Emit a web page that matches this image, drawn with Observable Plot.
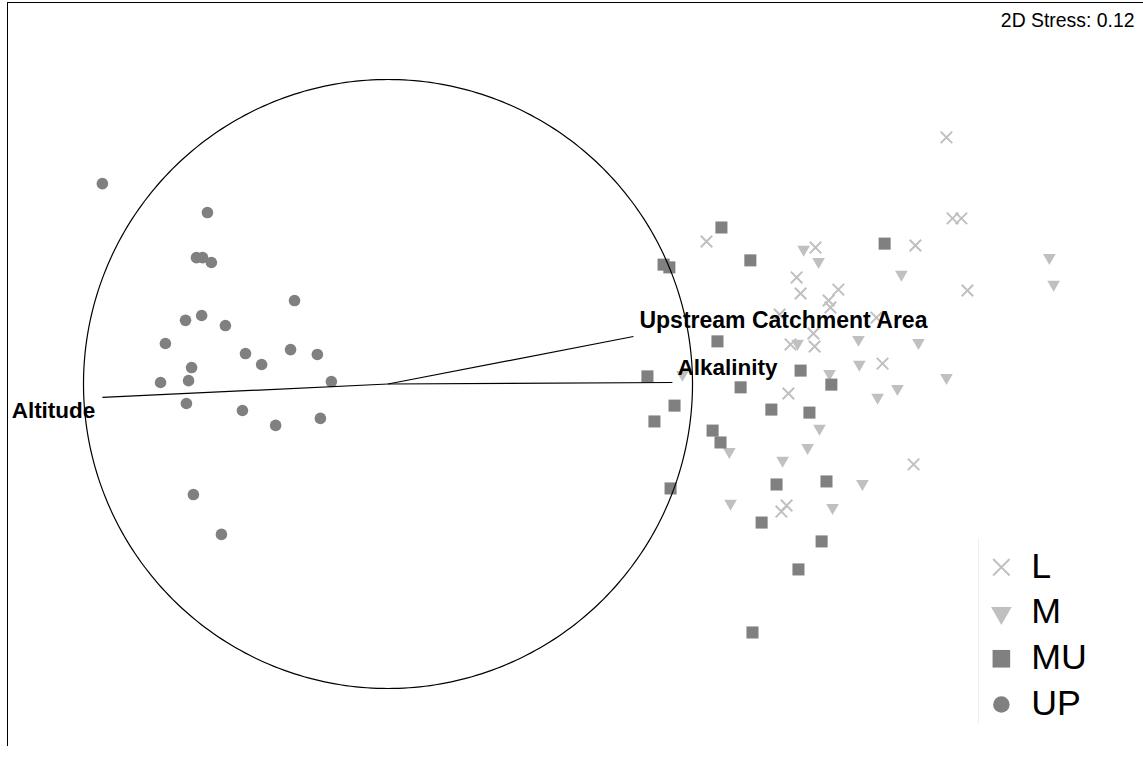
<!DOCTYPE html>
<html>
<head>
<meta charset="utf-8">
<script src="https://cdn.jsdelivr.net/npm/d3@7"></script>
<script src="https://cdn.jsdelivr.net/npm/@observablehq/plot@0.6"></script>
<style>
  html, body { margin: 0; padding: 0; background: #fff; }
  #wrap { position: relative; width: 1143px; height: 763px; overflow: hidden; font-family: "Liberation Sans", Arial, sans-serif; }
  #chart { position: absolute; left: 0; top: 0; }
  #frame { position: absolute; left: 7px; top: 2px; width: 1136px; height: 743px; border-left: 1px solid #000; border-top: 1px solid #000; pointer-events: none; }
  #legend { position: absolute; left: 978px; top: 538px; border-left: 1px solid #efefef; }
</style>
</head>
<body>
<div id="wrap"><div id="chart"></div><div id="frame"></div><div id="legend"></div></div>
<script>
// ---- Data (NMDS coordinates, correlation circle radius = 1) ----
const groups = ["L", "M", "MU", "UP"];
const stress = "0.12";

const lX = [1.046, 1.404, 1.342, 1.355, 1.479, 1.447, 1.453, 1.286, 1.604, 1.397, 1.322, 1.401, 1.834, 1.854, 1.883, 1.732, 1.903, 1.624, 1.315, 1.726, 1.292, 1.309];
const lY = [0.468, 0.448, 0.350, 0.297, 0.310, 0.274, 0.251, 0.228, 0.218, 0.166, 0.130, 0.123, 0.810, 0.544, 0.544, 0.455, 0.307, 0.067, -0.031, -0.264, -0.419, -0.399];

const mX = [1.365, 1.414, 1.686, 2.172, 2.186, 1.345, 1.545, 1.742, 1.548, 1.450, 1.673, 1.608, 1.834, 0.967, 1.121, 1.296, 1.378, 1.417, 1.558, 1.125, 1.460];
const mY = [0.442, 0.402, 0.360, 0.415, 0.327, 0.133, 0.146, 0.136, 0.064, 0.034, -0.015, -0.044, 0.021, 0.031, -0.222, -0.251, -0.209, -0.146, -0.327, -0.392, -0.406];

const muX = [1.095, 0.905, 0.924, 1.190, 1.631, 1.082, 0.852, 1.158, 1.355, 1.456, 0.941, 0.875, 1.259, 1.384, 1.066, 1.092, 0.928, 1.276, 1.440, 1.227, 1.424, 1.348, 1.197];
const muY = [0.514, 0.392, 0.383, 0.406, 0.461, 0.140, 0.025, -0.011, 0.044, -0.002, -0.071, -0.123, -0.084, -0.094, -0.153, -0.192, -0.343, -0.330, -0.320, -0.455, -0.517, -0.609, -0.816];

const upX = [-0.938, -0.593, -0.629, -0.609, -0.580, -0.307, -0.665, -0.612, -0.534, -0.731, -0.468, -0.415, -0.320, -0.232, -0.645, -0.655, -0.747, -0.186, -0.662, -0.478, -0.369, -0.222, -0.639, -0.547];
const upY = [0.658, 0.563, 0.415, 0.415, 0.399, 0.274, 0.209, 0.225, 0.192, 0.133, 0.100, 0.064, 0.113, 0.097, 0.054, 0.011, 0.005, 0.008, -0.064, -0.087, -0.136, -0.113, -0.363, -0.494];

const vectorNames = ["Altitude", "Upstream Catchment Area", "Alkalinity"];
const vectorX = [-0.938, 0.806, 0.934];
const vectorY = [-0.044, 0.156, 0.005];

// ---- Build tables ----
const toRows = (g, xs, ys) => xs.map((x, i) => ({group: g, x, y: ys[i]}));
const rowsL = toRows("L", lX, lY);
const rowsM = toRows("M", mX, mY);
const rowsMU = toRows("MU", muX, muY);
const rowsUP = toRows("UP", upX, upY);
const vectors = vectorNames.map((name, i) => ({name, x: vectorX[i], y: vectorY[i]}));
const unitCircle = d3.range(0, 361).map(a => ({x: Math.cos(a * Math.PI / 180), y: Math.sin(a * Math.PI / 180)}));

const LIGHT = "#c0c0c0", DARK = "#808080";
const triangleDown = {
  draw(ctx, size) {
    const y = Math.sqrt(size / (3 * Math.sqrt(3)));
    const x = Math.sqrt(3) * y;
    ctx.moveTo(0, 2 * y);
    ctx.lineTo(-x, -y);
    ctx.lineTo(x, -y);
    ctx.closePath();
  }
};
const FONT = "Liberation Sans, Arial, sans-serif";

// equal aspect: 304.5 px per unit, origin at (387.5, 383.5)
const W = 1143, H = 763, K = 304.5, OX = 387.5, OY = 383.5;

const chart = Plot.plot({
  width: W, height: H,
  marginTop: 0, marginRight: 0, marginBottom: 0, marginLeft: 0,
  style: {fontFamily: FONT, background: "transparent"},
  x: {type: "linear", domain: [-OX / K, (W - OX) / K], axis: null},
  y: {type: "linear", domain: [(OY - H) / K, OY / K], axis: null},
  marks: [
    Plot.dot(rowsL, {x: "x", y: "y", symbol: "times", r: 5.3, stroke: LIGHT, strokeWidth: 2, fill: "none"}),
    Plot.dot(rowsM, {x: "x", y: "y", symbol: triangleDown, r: 4.7, fill: LIGHT, stroke: "none"}),
    Plot.dot(rowsMU, {x: "x", y: "y", symbol: "square", r: 6.8, fill: DARK, stroke: "none"}),
    Plot.dot(rowsUP, {x: "x", y: "y", symbol: "circle", r: 5.8, fill: DARK, stroke: "none"}),
    Plot.line(unitCircle, {x: "x", y: "y", stroke: "#000", strokeWidth: 1.2}),
    Plot.link(vectors, {x1: () => 0, y1: () => 0, x2: "x", y2: "y", stroke: "#000", strokeWidth: 1.2}),
    Plot.text(vectors.filter(d => d.name === "Altitude"), {x: "x", y: "y", text: "name", textAnchor: "end", dx: -7, dy: 13, fontSize: 22.5, fontWeight: "bold", fill: "#000"}),
    Plot.text(vectors.filter(d => d.name === "Upstream Catchment Area"), {x: "x", y: "y", text: "name", textAnchor: "start", dx: 6, dy: -16, fontSize: 23, fontWeight: "bold", fill: "#000"}),
    Plot.text(vectors.filter(d => d.name === "Alkalinity"), {x: "x", y: "y", text: "name", textAnchor: "start", dx: 5, dy: -15, fontSize: 22.5, fontWeight: "bold", fill: "#000"}),
    Plot.text([stress], {frameAnchor: "top-right", text: d => `2D Stress: ${d}`, textAnchor: "end", lineAnchor: "top", dx: -9, dy: 13, fontSize: 19.4, fill: "#000"})
  ]
});
document.getElementById("chart").appendChild(chart);

// ---- Legend ----
const legendSymbols = {L: "times", M: triangleDown, MU: "square", UP: "circle"};
const legendR = {L: 7.6, M: 7.7, MU: 10, UP: 8.3};
const legend = Plot.plot({
  width: 165, height: 187,
  marginTop: 0, marginRight: 0, marginBottom: 0, marginLeft: 0,
  style: {fontFamily: FONT, background: "transparent"},
  y: {type: "point", domain: groups, range: [28, 168.5], padding: 0, axis: null},
  marks: [
    Plot.dot(["L"], {y: d => d, frameAnchor: "left", dx: 22, symbol: legendSymbols.L, r: legendR.L, stroke: LIGHT, strokeWidth: 2, fill: "none"}),
    Plot.dot(["M"], {y: d => d, frameAnchor: "left", dx: 22, symbol: legendSymbols.M, r: legendR.M, fill: LIGHT, stroke: "none"}),
    Plot.dot(["MU"], {y: d => d, frameAnchor: "left", dx: 22, symbol: legendSymbols.MU, r: legendR.MU, fill: DARK, stroke: "none"}),
    Plot.dot(["UP"], {y: d => d, frameAnchor: "left", dx: 22, symbol: legendSymbols.UP, r: legendR.UP, fill: DARK, stroke: "none"}),
    Plot.text(groups, {y: d => d, text: d => d, frameAnchor: "left", textAnchor: "start", dx: 52, dy: -1, fontSize: 36, fill: "#000"})
  ]
});
document.getElementById("legend").appendChild(legend);
</script>
</body>
</html>
